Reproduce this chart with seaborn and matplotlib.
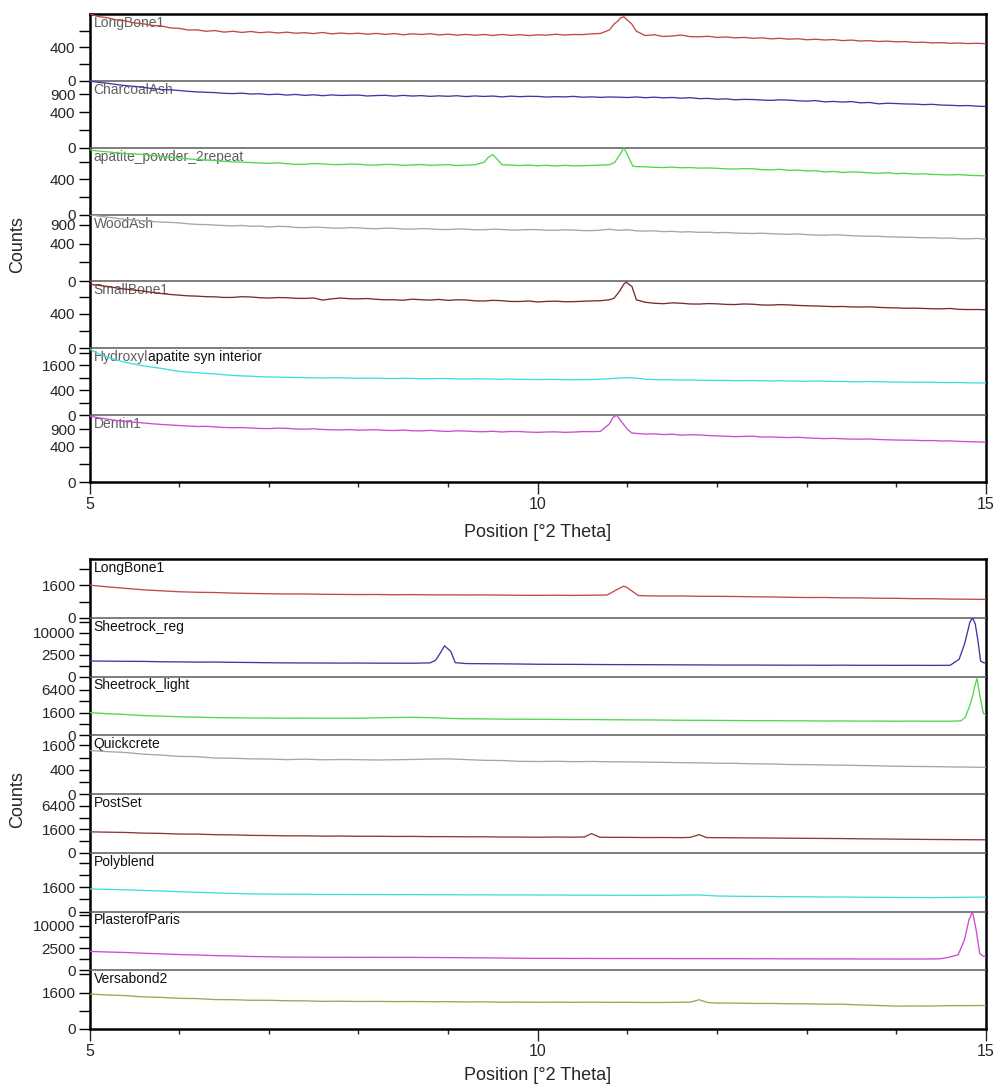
import numpy as np
import pandas as pd
import matplotlib
matplotlib.use("Agg")
import matplotlib.pyplot as plt
import seaborn as sns
from matplotlib.ticker import FixedLocator, FixedFormatter, MultipleLocator

sns.set_style("white")
plt.rcParams["font.family"] = ["Liberation Sans", "DejaVu Sans"]

# scan positions (deg 2-theta)
theta_top = np.linspace(5.0, 15.0, 101)
theta_bot = np.linspace(5.0, 15.0, 51)

# ---------------- top panel data (counts every 0.1 deg) ----------------
t_longbone_counts = [1600, 1480, 1425, 1330, 1290, 1200, 1165, 1100, 1080, 1005,
                     985, 925, 930, 880, 905, 850, 880, 840, 872, 830,
                     855, 820, 848, 812, 830, 800, 838, 790, 818, 795,
                     812, 780, 805, 772, 800, 760, 792, 770, 795, 755,
                     780, 748, 772, 745, 768, 738, 770, 742, 760, 735,
                     758, 748, 778, 752, 770, 765, 790, 805, 930, 1300,
                     1322, 880, 735, 760, 705, 720, 750, 700, 695, 712,
                     675, 690, 662, 675, 650, 662, 632, 648, 622, 635,
                     605, 620, 598, 610, 580, 595, 568, 578, 555, 565,
                     545, 552, 528, 536, 515, 522, 505, 512, 498, 505,
                     494]
t_longbone_px = [10.85, 10.92, 10.96, 11.05]
t_longbone_pc = [1152, 1412, 1472, 1150]

t_charcoal_counts = [1411, 1360, 1320, 1270, 1225, 1195, 1160, 1110, 1075, 1065,
                     1040, 1010, 990, 975, 965, 940, 930, 945, 915, 925,
                     895, 912, 880, 902, 870, 890, 860, 885, 868, 875,
                     880, 850, 865, 872, 845, 870, 848, 862, 838, 855,
                     840, 858, 830, 852, 835, 848, 820, 845, 828, 840,
                     835, 815, 828, 820, 838, 810, 822, 805, 818, 812,
                     800, 818, 795, 812, 790, 802, 780, 795, 765, 772,
                     748, 760, 730, 742, 738, 722, 712, 728, 720, 700,
                     690, 705, 668, 680, 662, 675, 640, 650, 612, 628,
                     620, 608, 605, 590, 598, 578, 572, 560, 565, 548,
                     540]
t_charcoal_px = []
t_charcoal_pc = []

t_apatite_counts = [1346, 1300, 1270, 1230, 1200, 1185, 1160, 1120, 1085, 1060,
                    1040, 1000, 975, 960, 940, 915, 895, 885, 870, 858,
                    845, 860, 835, 812, 815, 838, 830, 805, 805, 822,
                    815, 790, 790, 812, 805, 780, 795, 808, 780, 792,
                    800, 775, 785, 800, 880, 1156, 800, 790, 775, 790,
                    768, 782, 760, 782, 765, 770, 778, 790, 800, 1080,
                    1150, 740, 735, 720, 712, 725, 705, 712, 695, 700,
                    690, 672, 668, 680, 675, 650, 645, 660, 630, 640,
                    610, 622, 585, 600, 570, 588, 578, 560, 548, 565,
                    540, 548, 528, 535, 520, 512, 505, 515, 498, 490,
                    484]
t_apatite_px = [9.45, 9.55, 10.86, 10.92, 10.96, 11.06]
t_apatite_pc = [1060, 980, 880, 1180, 1431, 760]

t_woodash_counts = [1240, 1190, 1150, 1110, 1075, 1050, 1025, 1000, 980, 970,
                    955, 925, 905, 900, 885, 870, 860, 872, 848, 855,
                    825, 845, 838, 812, 805, 820, 812, 795, 790, 808,
                    800, 780, 772, 790, 785, 765, 762, 778, 770, 752,
                    750, 768, 762, 742, 745, 760, 752, 735, 738, 750,
                    745, 730, 728, 742, 735, 720, 718, 732, 760, 725,
                    745, 712, 705, 715, 690, 698, 680, 688, 670, 675,
                    660, 668, 652, 645, 640, 648, 635, 625, 618, 628,
                    610, 600, 595, 605, 598, 582, 575, 568, 568, 555,
                    550, 545, 540, 530, 535, 520, 525, 510, 505, 515,
                    496]
t_woodash_px = []
t_woodash_pc = []

t_smallbone_counts = [1395, 1350, 1300, 1240, 1190, 1150, 1115, 1060, 1020, 985,
                      960, 935, 925, 905, 900, 878, 880, 905, 895, 870,
                      858, 875, 870, 850, 845, 862, 790, 830, 860, 835,
                      830, 842, 815, 800, 800, 785, 820, 802, 790, 812,
                      780, 800, 795, 765, 760, 782, 770, 745, 745, 760,
                      730, 748, 755, 738, 740, 752, 762, 770, 800, 1050,
                      1440, 800, 720, 690, 676, 702, 690, 668, 665, 680,
                      672, 655, 650, 668, 660, 638, 635, 648, 640, 625,
                      615, 608, 600, 590, 595, 582, 578, 585, 570, 560,
                      555, 545, 548, 540, 532, 528, 540, 515, 510, 512,
                      505]
t_smallbone_px = [10.85, 10.92, 10.96, 10.99, 11.05]
t_smallbone_pc = [850, 1150, 1400, 1498, 1300]

t_hydroxy_counts = [2805, 2420, 2150, 1960, 1790, 1670, 1560, 1480, 1405, 1310,
                    1235, 1190, 1150, 1120, 1090, 1050, 1010, 990, 975, 950,
                    935, 928, 920, 910, 905, 895, 888, 900, 895, 880,
                    870, 882, 878, 865, 860, 870, 865, 850, 852, 862,
                    858, 845, 840, 850, 848, 835, 830, 838, 825, 818,
                    812, 820, 818, 808, 805, 812, 815, 830, 850, 880,
                    905, 880, 830, 812, 800, 805, 790, 795, 782, 778,
                    770, 775, 762, 765, 768, 755, 750, 758, 745, 742,
                    735, 745, 740, 730, 728, 720, 715, 725, 720, 705,
                    700, 702, 692, 695, 690, 685, 678, 682, 670, 668,
                    664]
t_hydroxy_px = []
t_hydroxy_pc = []

t_dentin_counts = [1406, 1340, 1280, 1230, 1190, 1160, 1130, 1100, 1075, 1055,
                   1035, 1015, 1000, 1005, 985, 965, 955, 962, 945, 930,
                   925, 940, 932, 912, 905, 918, 895, 885, 880, 892,
                   872, 880, 885, 865, 860, 875, 852, 848, 865, 842,
                   830, 850, 842, 825, 820, 835, 812, 828, 825, 808,
                   800, 812, 815, 800, 808, 825, 822, 830, 1100, 1350,
                   900, 765, 745, 752, 730, 740, 712, 725, 718, 700,
                   690, 680, 668, 675, 680, 655, 660, 648, 640, 650,
                   632, 620, 610, 618, 605, 598, 595, 600, 585, 578,
                   572, 568, 565, 555, 558, 545, 548, 535, 528, 522,
                   514]
t_dentin_px = [10.84, 10.88, 10.93, 11.05]
t_dentin_pc = [1350, 1448, 1200, 780]

top_names = ["LongBone1", "CharcoalAsh", "apatite_powder_2repeat", "WoodAsh", "SmallBone1",
             "Hydroxylapatite syn interior", "Dentin1"]
top_colors = ["#c44848", "#3a3aa6", "#4ed84e", "#a6a6a6", "#7a2c2c", "#3fdede", "#cc4ccc"]
top_ymax = [1600, 1420, 1440, 1245, 1520, 2870, 1450]
top_ticks = [[0, 100, 400, 900], [0, 100, 400, 900], [0, 100, 400, 900], [0, 100, 400, 900],
             [0, 100, 400, 900], [0, 100, 400, 900, 1600, 2500], [0, 100, 400, 900]]
top_ticklabels = [["0", "", "400", ""], ["0", "", "400", "900"], ["0", "", "400", ""], ["0", "", "400", "900"],
                  ["0", "", "400", ""], ["0", "", "400", "", "1600", ""], ["0", "", "400", "900"]]

# ---------------- bottom panel data (counts every 0.2 deg + peak detail) ----------------
b_longbone_counts = [1629, 1465, 1325, 1195, 1115, 1035, 995, 975, 930, 905, 885, 865, 868, 842, 835, 822, 830, 808, 820, 802,
                     803, 792, 798, 786, 772, 768, 778, 766, 778, 880, 1380, 738, 722, 728, 706, 702, 692, 675, 664, 643,
                     626, 630, 608, 604, 583, 578, 558, 555, 533, 528, 514]
b_longbone_px = [10.77, 10.88, 10.96, 11.05, 11.12]
b_longbone_pc = [790, 1200, 1533, 1100, 760]

b_sreg_counts = [1266, 1245, 1215, 1205, 1145, 1125, 1095, 1100, 1058, 1035, 998, 978, 966, 957, 948, 955, 938, 936, 928, 980,
                 4000, 880, 862, 845, 822, 792, 781, 775, 762, 748, 742, 738, 727, 716, 707, 696, 691, 690, 682, 674,
                 673, 668, 675, 662, 661, 656, 660, 650, 660, 11500, 950]
b_sreg_px = [8.86, 8.91, 8.96, 9.03, 9.08, 14.7, 14.76, 14.82, 14.85, 14.88, 14.91, 14.94, 14.97]
b_sreg_pc = [1384, 2800, 4965, 3300, 1015, 1563, 5538, 15597, 18100, 14624, 6739, 1266, 1015]

b_slight_counts = [1586, 1445, 1335, 1195, 1135, 1055, 1015, 965, 945, 922, 918, 902, 910, 893, 892, 898, 942, 978, 996, 958,
                   882, 838, 830, 803, 797, 790, 778, 763, 765, 743, 737, 728, 714, 698, 692, 684, 672, 660, 662, 646,
                   642, 628, 632, 620, 622, 615, 620, 613, 614, 2000, 1250]
b_slight_px = [14.72, 14.77, 14.81, 14.85, 14.87, 14.90, 14.93, 14.97]
b_slight_pc = [640, 1000, 2273, 4700, 6955, 10000, 5102, 1500]

b_quick_counts = [1284, 1215, 1165, 1075, 1025, 955, 945, 875, 865, 835, 828, 800, 822, 792, 805, 798, 782, 794, 808, 828,
                  834, 802, 768, 758, 722, 714, 725, 706, 717, 703, 697, 688, 677, 665, 657, 640, 637, 616, 612, 588,
                  584, 572, 562, 550, 537, 522, 514, 508, 497, 490, 480]
b_quick_px = []
b_quick_pc = []

b_postset_counts = [1267, 1225, 1195, 1115, 1085, 1015, 1005, 945, 925, 875, 860, 828, 830, 802, 808, 787, 790, 768, 775, 752,
                    755, 735, 740, 718, 712, 698, 717, 703, 1060, 688, 686, 670, 675, 662, 950, 657, 648, 637, 628, 614,
                    602, 592, 583, 564, 552, 537, 522, 510, 502, 494, 485]
b_postset_px = [10.52, 10.69, 11.7, 11.88]
b_postset_pc = [720, 700, 680, 670]

b_poly_counts = [1381, 1325, 1272, 1198, 1140, 1058, 1000, 928, 888, 838, 826, 803, 800, 786, 785, 773, 774, 766, 770, 758,
                 760, 750, 752, 743, 745, 736, 735, 723, 722, 711, 714, 706, 708, 728, 738, 652, 630, 613, 610, 590,
                 588, 568, 570, 553, 550, 536, 534, 520, 540, 553, 560]
b_poly_px = []
b_poly_pc = []

b_plaster_counts = [1815, 1695, 1610, 1475, 1370, 1255, 1190, 1095, 1040, 965, 930, 882, 876, 858, 860, 848, 853, 843, 845, 828,
                    818, 798, 786, 758, 735, 718, 720, 708, 710, 698, 701, 693, 696, 688, 690, 683, 684, 673, 675, 663,
                    664, 653, 655, 646, 648, 640, 642, 650, 900, 11000, 950]
b_plaster_px = [14.5, 14.69, 14.76, 14.81, 14.85, 14.89, 14.93, 14.97]
b_plaster_pc = [680, 1239, 4738, 12923, 17500, 8328, 1402, 1000]

b_versa_counts = [1474, 1395, 1345, 1245, 1205, 1135, 1115, 1045, 1035, 995, 995, 962, 955, 922, 930, 912, 920, 905, 912, 898,
                  902, 882, 888, 870, 876, 860, 870, 858, 868, 856, 860, 848, 850, 862, 1030, 812, 808, 787, 788, 768,
                  766, 743, 741, 698, 667, 633, 636, 638, 660, 660, 666]
b_versa_px = [11.7, 11.9]
b_versa_pc = [870, 840]

bot_names = ["LongBone1", "Sheetrock_reg", "Sheetrock_light", "Quickcrete", "PostSet", "Polyblend",
             "PlasterofParis", "Versabond2"]
bot_colors = ["#c44848", "#3a3aa6", "#4ed84e", "#a6a6a6", "#8a3a3a", "#3fdede", "#cc4ccc", "#a3a352"]
bot_ymax = [5290, 18200, 10700, 2336, 10000, 9344, 17600, 4162]
bot_ticks = [[0, 400, 1600, 3600], [0, 625, 2500, 5625, 10000, 15625], [0, 400, 1600, 3600, 6400],
             [0, 100, 400, 900, 1600], [0, 400, 1600, 3600, 6400], [0, 400, 1600, 3600, 6400],
             [0, 625, 2500, 5625, 10000, 15625], [0, 400, 1600, 3600]]
bot_ticklabels = [["0", "", "1600", ""], ["0", "", "2500", "", "10000", ""], ["0", "", "1600", "", "6400"],
                  ["0", "", "400", "", "1600"], ["0", "", "1600", "", "6400"], ["0", "", "1600", "", ""],
                  ["0", "", "2500", "", "10000", ""], ["0", "", "1600", ""]]

top_series = [(t_longbone_counts, t_longbone_px, t_longbone_pc), (t_charcoal_counts, t_charcoal_px, t_charcoal_pc),
              (t_apatite_counts, t_apatite_px, t_apatite_pc), (t_woodash_counts, t_woodash_px, t_woodash_pc),
              (t_smallbone_counts, t_smallbone_px, t_smallbone_pc), (t_hydroxy_counts, t_hydroxy_px, t_hydroxy_pc),
              (t_dentin_counts, t_dentin_px, t_dentin_pc)]
bot_series = [(b_longbone_counts, b_longbone_px, b_longbone_pc), (b_sreg_counts, b_sreg_px, b_sreg_pc),
              (b_slight_counts, b_slight_px, b_slight_pc), (b_quick_counts, b_quick_px, b_quick_pc),
              (b_postset_counts, b_postset_px, b_postset_pc), (b_poly_counts, b_poly_px, b_poly_pc),
              (b_plaster_counts, b_plaster_px, b_plaster_pc), (b_versa_counts, b_versa_px, b_versa_pc)]

# ---------------- drawing ----------------
W, H = 996, 1085
fig = plt.figure(figsize=(W / 100, H / 100), dpi=100)
fig.patch.set_facecolor("white")
LEFT, RIGHT = 89.5, 986.0


def sq_fwd(v):
    return np.sqrt(np.clip(v, 0, None))


def sq_inv(v):
    return np.square(v)


def draw_panel(theta, top_px, bot_px, series, names, colors, ymaxs, ticks, ticklabels, label_color,
               xlabel_px, ylabel_px):
    n = len(series)
    h = (bot_px - top_px) / n
    for i in range(n):
        counts, px, pc = series[i]
        y_top = top_px + i * h
        ax = fig.add_axes([LEFT / W, 1 - (y_top + h) / H, (RIGHT - LEFT) / W, h / H])
        x = np.concatenate([theta, np.asarray(px, dtype=float)])
        c = np.concatenate([np.asarray(counts, dtype=float), np.asarray(pc, dtype=float)])
        order = np.argsort(x, kind="stable")
        df = pd.DataFrame({"pos": x[order], "cnt": c[order]})
        sns.lineplot(data=df, x="pos", y="cnt", ax=ax, color=colors[i], lw=0.95,
                     estimator=None, sort=False, zorder=3)
        ax.set_yscale("function", functions=(sq_fwd, sq_inv))
        ax.set_xlim(5, 15)
        ax.set_ylim(0, ymaxs[i])
        ax.set_xlabel("")
        ax.set_ylabel("")
        ax.yaxis.set_major_locator(FixedLocator(ticks[i]))
        ax.yaxis.set_major_formatter(FixedFormatter(ticklabels[i]))
        ax.yaxis.set_minor_locator(FixedLocator([]))
        ax.tick_params(axis="y", which="major", direction="out", length=8, width=1.0,
                       labelsize=11, pad=2, color="black", left=True)
        for side in ("left", "right"):
            ax.spines[side].set_color("black")
            ax.spines[side].set_linewidth(1.8)
        if i == 0:
            ax.spines["top"].set_color("black")
            ax.spines["top"].set_linewidth(1.8)
        else:
            ax.spines["top"].set_color("#5a5a5a")
            ax.spines["top"].set_linewidth(1.1)
        if i == n - 1:
            ax.spines["bottom"].set_color("black")
            ax.spines["bottom"].set_linewidth(1.8)
            ax.set_xticks([5, 10, 15])
            ax.set_xticklabels(["5", "10", "15"])
            ax.xaxis.set_minor_locator(MultipleLocator(1))
            ax.tick_params(axis="x", which="major", direction="out", length=8.5, width=1.0,
                           labelsize=11.5, pad=2, bottom=True)
            ax.tick_params(axis="x", which="minor", direction="out", length=3.6, width=1.0, bottom=True)
        else:
            ax.spines["bottom"].set_visible(False)
            ax.tick_params(axis="x", which="both", bottom=False, labelbottom=False)
        name = names[i]
        if name == "Hydroxylapatite syn interior":
            t1 = ax.annotate("Hydroxyl", xy=(0, 1), xycoords="axes fraction", xytext=(4, -2),
                             textcoords="offset pixels", ha="left", va="top", fontsize=10,
                             color=label_color, zorder=2)
            ax.annotate("apatite syn interior", xy=(1, 0), xycoords=t1, xytext=(0, 0),
                        textcoords="offset pixels", ha="left", va="bottom", fontsize=10,
                        color="#111111", zorder=2)
        else:
            ax.annotate(name, xy=(0, 1), xycoords="axes fraction", xytext=(4, -2),
                        textcoords="offset pixels", ha="left", va="top", fontsize=10,
                        color=label_color, zorder=2)
    fig.text(538 / W, 1 - xlabel_px / H, "Position [°2 Theta]", ha="center", va="center", fontsize=13)
    fig.text(18 / W, 1 - ylabel_px / H, "Counts", ha="center", va="center", rotation=90, fontsize=13)


draw_panel(theta_top, 14, 482, top_series, top_names, top_colors, top_ymax, top_ticks, top_ticklabels,
           "#5f5f5f", 533, 245)
draw_panel(theta_bot, 559, 1029, bot_series, bot_names, bot_colors, bot_ymax, bot_ticks, bot_ticklabels,
           "#111111", 1076, 800)

fig.savefig("out.png", dpi=100, facecolor="white")
